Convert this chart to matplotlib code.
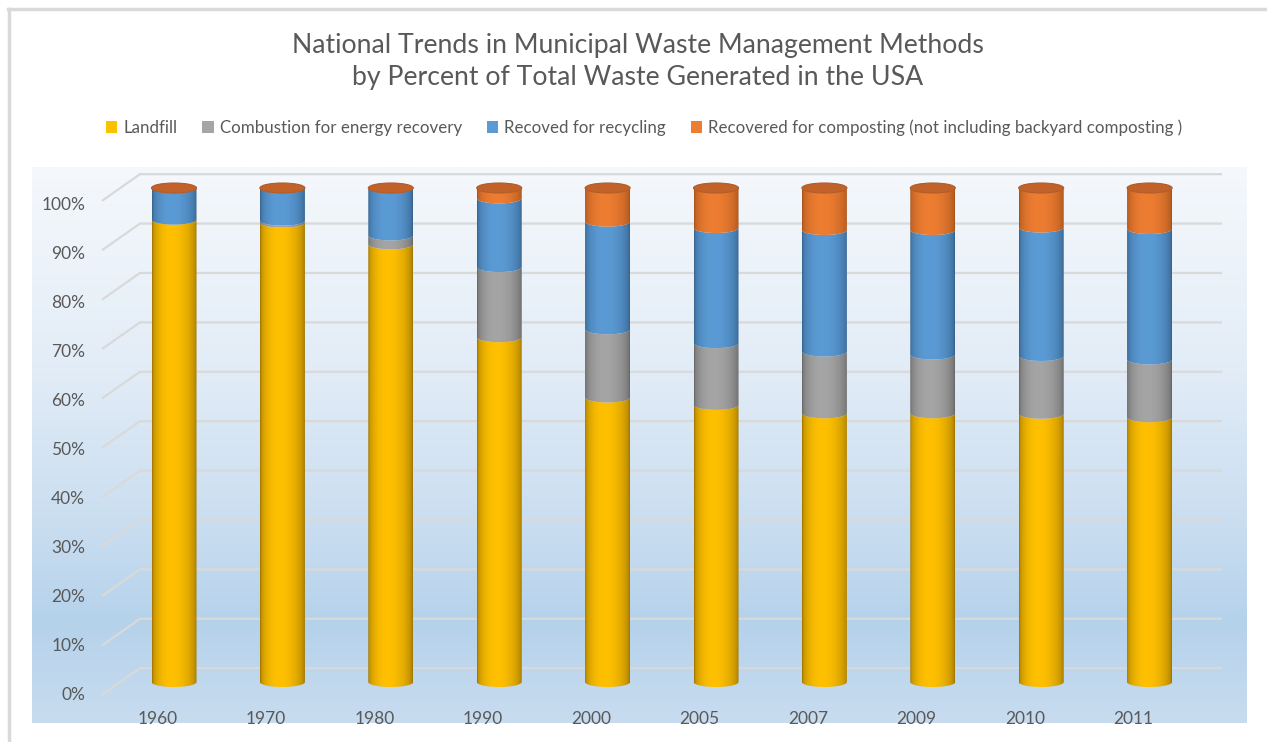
import matplotlib
matplotlib.use("Agg")
import matplotlib.pyplot as plt
import numpy as np
from matplotlib.path import Path
from matplotlib.patches import PathPatch, Ellipse, Rectangle
from matplotlib.colors import to_rgb, LinearSegmentedColormap
from matplotlib.lines import Line2D

# Data (percent of total waste generated)
years = ["1960", "1970", "1980", "1990", "2000", "2005", "2007", "2009", "2010", "2011"]
landfill = [93.6, 93.0, 88.6, 69.8, 57.6, 56.1, 54.4, 54.4, 54.3, 53.6]
combustion = [0.0, 0.4, 1.8, 14.2, 13.8, 12.5, 12.5, 11.9, 11.7, 11.7]
recycling = [6.4, 6.6, 9.6, 13.9, 21.8, 23.3, 24.6, 25.2, 26.0, 26.4]
composting = [0.0, 0.0, 0.0, 2.1, 6.8, 8.1, 8.5, 8.5, 8.0, 8.3]

series_names = ["Landfill", "Combustion for energy recovery", "Recoved for recycling",
                "Recovered for composting (not including backyard composting )"]
series_colors = ["#FFC000", "#A5A5A5", "#5B9BD5", "#ED7D31"]
series_dark = ["#9C7500", "#666666", "#35628C", "#A4521C"]
y_ticks = [0, 10, 20, 30, 40, 50, 60, 70, 80, 90, 100]

text_col = "#595959"
plt.rcParams["font.family"] = ["Lato", "DejaVu Sans"]

W, H = 1267, 742
fig = plt.figure(figsize=(W / 100, H / 100), dpi=100)

# outer frame lines (top and left only, picture is cropped)
fig.add_artist(Line2D([8 / W, 1], [1 - 9 / H, 1 - 9 / H], color="#D9D9D9", lw=2.5))
fig.add_artist(Line2D([9 / W, 9 / W], [0, 1 - 9 / H], color="#D9D9D9", lw=2.5))

# plot area
x0, x1, y0, y1 = 32, 1247, 167, 723
ax = fig.add_axes([x0 / W, 1 - y1 / H, (x1 - x0) / W, (y1 - y0) / H])
ax.set_axis_off()

xpx = 108.4   # pixels per category
ypx = 4.94    # pixels per percent
xlo = -(174 - x0) / xpx
xhi = xlo + (x1 - x0) / xpx
yhi = (682 - y0) / ypx
ylo = yhi - (y1 - y0) / ypx

# background gradient
grad_cols = ["#F5F8FC", "#E3EDF7", "#C9DDF0", "#B5D2EB", "#C8DCEF"]
bg_cmap = LinearSegmentedColormap.from_list("bg", list(zip([0, 0.35, 0.65, 0.82, 1.0], grad_cols)))
ax.imshow(np.linspace(0, 1, 256).reshape(-1, 1), cmap=bg_cmap, aspect="auto",
          extent=(xlo, xhi, ylo, yhi), origin="upper", zorder=0)

# gridlines: side wall diagonals + back wall
back_off = 2.8
front_off = -2.6
for v in y_ticks:
    ax.plot([-0.664, -0.314, 9.668], [v + front_off, v + back_off, v + back_off],
            color="#D9D9D9", lw=1.6, zorder=1, solid_capstyle="butt")
    ax.text(-0.82, v - 2.6 - 0.008 * v, f"{v}%", ha="right", va="center",
            fontsize=12.5, color=text_col)

for i, yr in enumerate(years):
    ax.text(i - 0.15, -7.4, yr, ha="center", va="center", fontsize=12.5, color=text_col)

bw = 45 / xpx
eh = 10 / ypx


def shade_cmap(base, dark):
    b = np.array(to_rgb(base))
    d = np.array(to_rgb(dark))
    u = np.linspace(0, 1, 64)
    t = np.clip(np.sin(np.pi * u ** 0.85) ** 0.5, 0, 1)
    cols = d[None, :] * (1 - t[:, None]) + b[None, :] * t[:, None]
    return cols.reshape(1, -1, 3)


def seg_path(c, bot, top):
    t = np.linspace(np.pi, 2 * np.pi, 40)
    xs_b = c + bw / 2 * np.cos(t)
    ys_b = bot + eh / 2 * np.sin(t)
    xs_t = (c + bw / 2 * np.cos(t))[::-1]
    ys_t = (top + eh / 2 * np.sin(t))[::-1]
    verts = np.concatenate([np.column_stack([xs_b, ys_b]), np.column_stack([xs_t, ys_t])])
    verts = np.vstack([verts, verts[:1]])
    return Path(verts, closed=True)


data = [landfill, combustion, recycling, composting]
for i in range(len(years)):
    bottom = 0.0
    for k in range(4):
        v = data[k][i]
        if v < 0.05:
            bottom += v
            continue
        top = bottom + v
        patch = PathPatch(seg_path(i, bottom, top), facecolor="none", edgecolor="none", zorder=3)
        ax.add_patch(patch)
        im = ax.imshow(shade_cmap(series_colors[k], series_dark[k]), aspect="auto",
                       extent=(i - bw / 2, i + bw / 2, bottom - eh, top + eh), zorder=3)
        im.set_clip_path(patch)
        bottom = top
    # top cap
    ax.add_patch(Ellipse((i, bottom), bw, eh, facecolor="#C0622A", edgecolor="#B45A24",
                         lw=0.8, zorder=4))

ax.set_xlim(xlo, xhi)
ax.set_ylim(ylo, yhi)

# title
fig.text(638 / W, 1 - 45 / H, "National Trends in Municipal Waste Management Methods",
         ha="center", va="center", fontsize=19.2, color=text_col)
fig.text(638 / W, 1 - 77 / H, "by Percent of Total Waste Generated in the USA",
         ha="center", va="center", fontsize=19.2, color=text_col)

# legend
handles = [Rectangle((0, 0), 1, 1, facecolor=c, edgecolor="none") for c in series_colors]
fig.legend(handles, series_names, loc="center", bbox_to_anchor=(644 / W, 1 - 128 / H),
           ncol=4, frameon=False, fontsize=12.2, handlelength=0.7, handleheight=0.7,
           handletextpad=0.35, columnspacing=1.45, labelcolor=text_col)

fig.savefig("out.png", dpi=100)
